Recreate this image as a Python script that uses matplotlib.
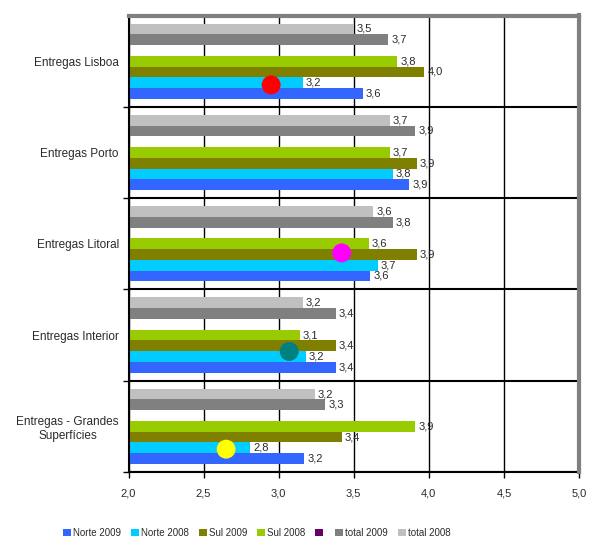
import numpy as np
import matplotlib
matplotlib.use("Agg")
import matplotlib.pyplot as plt
from matplotlib.patches import Patch

plt.rcParams['font.family'] = ['Liberation Sans', 'DejaVu Sans']

categories = ["Entregas Lisboa", "Entregas Porto", "Entregas Litoral",
              "Entregas Interior", "Entregas - Grandes\nSuperfícies"]

series_names = ["Norte 2009", "Norte 2008", "Sul 2009", "Sul 2008", "",
                "total 2009", "total 2008"]
series_colors = ["#3366FF", "#00CCFF", "#808000", "#99CC00", "#660066",
                 "#808080", "#C0C0C0"]

norte_2009 = [3.56, 3.87, 3.61, 3.38, 3.17]
norte_2008 = [3.16, 3.76, 3.66, 3.18, 2.81]
sul_2009 = [3.97, 3.92, 3.92, 3.38, 3.42]
sul_2008 = [3.79, 3.74, 3.60, 3.14, 3.91]
blank_series = [np.nan] * 5
total_2009 = [3.73, 3.91, 3.76, 3.38, 3.31]
total_2008 = [3.50, 3.74, 3.63, 3.16, 3.24]

series_values = [norte_2009, norte_2008, sul_2009, sul_2008, blank_series,
                 total_2009, total_2008]

# highlight dots: (category position, x value, colour)
dot_cat = [0.26, 2.10, 3.18, 4.25]
dot_x = [2.95, 3.42, 3.07, 2.65]
dot_colors = ["#FF0000", "#FF00FF", "#008080", "#FFFF00"]

x_ticks = [2.0, 2.5, 3.0, 3.5, 4.0, 4.5, 5.0]

W, H = 590, 538
fig = plt.figure(figsize=(W / 100, H / 100), dpi=100)
left, right, top, bottom = 128.5, 579, 15.5, 472
ax = fig.add_axes([left / W, 1 - bottom / H, (right - left) / W, (bottom - top) / H])

h = 1 / 8.5
ypos = np.arange(len(categories))
for j, (vals, col) in enumerate(zip(series_values, series_colors)):
    off = (3 - j) * h
    ax.barh(ypos + off, vals, height=h, color=col, zorder=2, linewidth=0)
    for yi, v in zip(ypos, vals):
        if np.isnan(v):
            continue
        ax.text(v + 0.02, yi + off, f"{v:.1f}".replace(".", ","),
                va="center", ha="left", fontsize=8, color="#2a2a2a", zorder=4)

ax.scatter(dot_x, dot_cat, s=185, c=dot_colors, zorder=5, linewidths=0)

ax.set_xlim(2.0, 5.0)
ax.set_ylim(4.5, -0.5)

ax.set_xticks(x_ticks)
ax.set_xticklabels([f"{t:.1f}".replace(".", ",") for t in x_ticks],
                   fontsize=8, color="#2a2a2a")
ax.tick_params(axis="x", direction="out", length=4, width=1, pad=8, color="black")

ax.set_yticks(np.arange(0.5, 5, 1))
ax.set_yticklabels([])
ax.tick_params(axis="y", which="major", direction="out", length=4, width=1, color="black")
ax.set_yticks(ypos, minor=True)
ax.set_yticklabels(categories, minor=True, fontsize=8.5, color="#2a2a2a",
                   multialignment="center")
ax.tick_params(axis="y", which="minor", length=0, pad=7)

ax.set_axisbelow(True)
ax.grid(axis="x", which="major", color="black", linewidth=1)
ax.grid(axis="y", which="major", color="black", linewidth=1.5)

for s in ("top", "right"):
    ax.spines[s].set_color("#808080")
    ax.spines[s].set_linewidth(3)
    ax.spines[s].set_zorder(6)
ax.spines["left"].set_color("black")
ax.spines["left"].set_linewidth(1.5)
ax.spines["bottom"].set_color("black")
ax.spines["bottom"].set_linewidth(1.5)

handles = [Patch(facecolor=c, edgecolor="none") for c in series_colors]
fig.legend(handles, series_names, loc="center", bbox_to_anchor=(0.435, 1 - 533 / H),
           ncol=7, frameon=False, fontsize=7, handlelength=0.8, handleheight=0.8,
           handletextpad=0.2, columnspacing=1.05, labelcolor="#2a2a2a")

fig.savefig("out.png", dpi=100)
